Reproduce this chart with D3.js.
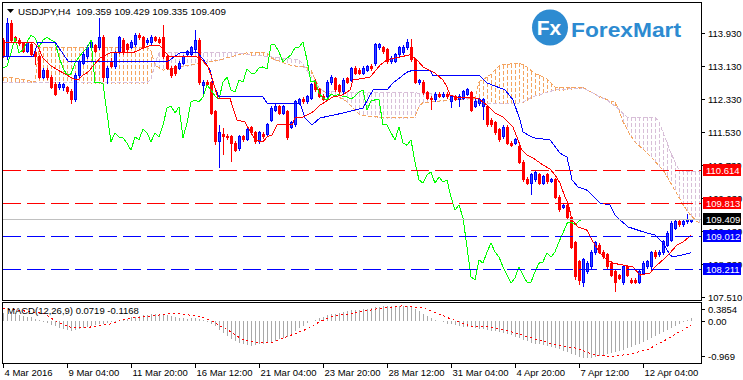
<!DOCTYPE html>
<html lang="en">
<meta charset="utf-8">
<head>
    <title>USDJPY,H4 Ichimoku + MACD</title>
    <script src="https://d3js.org/d3.v7.min.js"></script>
    <style>
        body { margin: 0; background: #fff; }
        svg text { font-family: "Liberation Sans", Arial, sans-serif; }
    </style>
</head>
<body>
<div id="chart"></div>
<script>
    // ---- data (H4 bars, index 0 = first bar at left edge) ----
    const symbolTitle = "USDJPY,H4";
    const lastQuote = ["109.359", "109.429", "109.335", "109.409"];

    const opens = [113.76,
        113.35, 114.17, 113.81, 113.76, 113.67, 113.49, 113.64, 113.45, 113.35, 112.86,
        113.03, 112.86, 112.69, 112.60, 112.60, 112.60, 112.52, 112.31, 112.89, 113.20,
        113.35, 113.57, 113.62, 113.57, 113.83, 112.86, 113.23, 113.11, 113.47, 113.76,
        113.64, 113.59, 113.64, 113.88, 113.81, 113.69, 113.69, 113.81, 113.78, 113.81,
        113.35, 113.08, 113.11, 113.08, 113.20, 113.40, 113.40, 113.52, 113.76, 112.65,
        112.74, 112.72, 112.02, 111.29, 111.48, 111.43, 111.41, 111.26, 111.12, 111.41,
        111.36, 111.63, 111.51, 111.29, 111.48, 111.46, 111.82, 112.06, 112.14, 111.99,
        112.02, 111.65, 111.70, 112.23, 112.33, 112.26, 112.35, 112.72, 112.55, 112.40,
        112.38, 112.72, 112.82, 112.65, 112.50, 112.82, 112.79, 113.08, 113.03, 112.96,
        113.03, 113.13, 113.18, 113.57, 113.57, 113.52, 113.23, 113.25, 113.40, 113.45,
        113.57, 113.59, 113.28, 112.72, 112.74, 112.48, 112.35, 112.31, 112.45, 112.40,
        112.45, 112.26, 112.38, 112.31, 112.35, 112.45, 112.48, 112.16, 112.21, 112.14,
        112.14, 111.82, 111.75, 111.58, 111.41, 111.65, 111.26, 111.26, 111.19, 110.80,
        110.39, 110.29, 110.37, 110.49, 110.29, 110.49, 110.34, 110.37, 109.95, 109.71,
        109.76, 109.45, 108.84, 108.38, 107.89, 108.14, 108.26, 108.60, 108.79, 108.62,
        108.55, 108.35, 108.14, 108.04, 107.87, 108.26, 107.94, 107.94, 107.89, 108.11,
        108.26, 108.26, 108.62, 108.55, 108.60, 108.79, 108.91, 109.20, 109.35, 109.28,
        109.35, 109.359];
    const highs = [113.81,
        114.29, 114.25, 113.86, 113.81, 113.71, 113.74, 113.69, 113.49, 113.40, 113.08,
        113.08, 112.91, 112.74, 112.74, 112.72, 112.65, 112.57, 112.96, 113.28, 113.47,
        113.64, 113.76, 113.67, 114.29, 113.88, 113.13, 113.32, 113.49, 113.86, 113.81,
        113.69, 113.76, 113.93, 113.93, 113.86, 113.81, 113.88, 113.86, 113.83, 114.12,
        113.40, 113.13, 113.15, 113.25, 113.40, 113.52, 113.62, 114.00, 113.81, 112.79,
        112.79, 112.77, 112.06, 111.70, 111.63, 111.48, 111.46, 111.31, 111.46, 111.46,
        111.65, 111.68, 111.56, 111.56, 111.53, 111.75, 112.16, 112.21, 112.18, 112.18,
        112.06, 111.80, 112.31, 112.35, 112.38, 112.43, 112.72, 112.82, 112.60, 112.45,
        112.79, 112.91, 112.86, 112.69, 112.84, 112.86, 113.11, 113.13, 113.08, 113.13,
        113.15, 113.18, 113.69, 113.69, 113.62, 113.57, 113.37, 113.45, 113.62, 113.64,
        113.78, 113.78, 113.32, 112.82, 112.79, 112.52, 112.40, 112.50, 112.50, 112.50,
        112.50, 112.43, 112.43, 112.45, 112.55, 112.60, 112.52, 112.33, 112.35, 112.35,
        112.18, 111.87, 111.80, 111.63, 111.70, 111.70, 111.31, 111.39, 111.24, 110.85,
        110.44, 110.54, 110.61, 110.54, 110.49, 110.54, 110.41, 110.41, 110.00, 109.81,
        109.81, 109.49, 108.89, 108.43, 108.48, 108.40, 108.67, 108.89, 108.84, 108.67,
        108.60, 108.40, 108.19, 108.09, 108.31, 108.31, 107.99, 107.99, 108.19, 108.40,
        108.43, 108.65, 108.67, 108.67, 108.91, 109.13, 109.37, 109.40, 109.40, 109.42,
        109.54, 109.429];
    const lows = [113.33,
        113.28, 113.71, 113.69, 113.62, 113.45, 113.45, 113.35, 113.15, 112.82, 112.82,
        112.79, 112.57, 112.40, 112.55, 112.52, 112.45, 112.21, 112.26, 112.84, 113.15,
        113.30, 113.52, 113.45, 113.52, 112.74, 112.69, 113.08, 113.06, 113.42, 113.40,
        113.47, 113.54, 113.59, 113.76, 113.54, 113.64, 113.64, 113.71, 113.67, 113.30,
        113.03, 112.84, 112.89, 113.03, 113.15, 113.35, 113.35, 113.47, 112.67, 112.38,
        112.65, 111.94, 111.21, 110.66, 110.97, 111.34, 110.80, 111.05, 111.07, 111.29,
        111.31, 111.46, 111.24, 111.24, 111.36, 111.41, 111.77, 112.02, 111.94, 111.94,
        111.34, 111.60, 111.65, 112.18, 112.21, 112.21, 112.31, 112.50, 112.35, 112.28,
        112.33, 112.67, 112.50, 112.45, 112.45, 112.69, 112.74, 112.91, 112.91, 112.91,
        112.99, 113.01, 113.13, 113.52, 113.42, 113.18, 113.18, 113.20, 113.35, 113.40,
        113.52, 113.23, 112.69, 112.67, 112.43, 112.31, 112.06, 112.26, 112.35, 112.35,
        112.33, 112.11, 112.28, 112.14, 112.31, 112.40, 112.02, 112.11, 112.16, 111.82,
        111.65, 111.65, 111.46, 111.29, 111.36, 111.21, 111.17, 111.21, 110.76, 110.32,
        110.24, 110.00, 110.32, 110.24, 110.24, 110.27, 110.29, 109.91, 109.59, 109.67,
        109.40, 108.69, 107.94, 107.82, 107.77, 108.09, 108.21, 108.55, 108.57, 108.45,
        108.21, 108.02, 107.65, 107.94, 107.82, 108.02, 107.85, 107.85, 107.85, 108.06,
        108.21, 108.21, 108.45, 108.50, 108.55, 108.74, 108.87, 109.15, 109.23, 109.23,
        109.30, 109.335];
    const closes = [113.35,
        114.17, 113.76, 113.74, 113.67, 113.49, 113.69, 113.40, 113.35, 112.86, 113.03,
        112.84, 112.62, 112.45, 112.69, 112.67, 112.50, 112.31, 112.91, 113.23, 113.40,
        113.59, 113.71, 113.49, 113.81, 112.84, 113.08, 113.13, 113.45, 113.81, 113.45,
        113.52, 113.71, 113.88, 113.81, 113.59, 113.76, 113.83, 113.76, 113.71, 113.35,
        113.08, 112.91, 112.94, 113.20, 113.35, 113.47, 113.57, 113.76, 112.72, 112.74,
        112.69, 111.99, 111.29, 111.51, 111.41, 111.39, 111.26, 111.09, 111.41, 111.34,
        111.60, 111.51, 111.29, 111.51, 111.41, 111.70, 112.11, 112.16, 111.99, 112.14,
        111.39, 111.75, 112.26, 112.31, 112.26, 112.38, 112.67, 112.55, 112.40, 112.33,
        112.74, 112.86, 112.55, 112.50, 112.79, 112.74, 113.06, 112.96, 112.96, 113.08,
        113.11, 113.06, 113.64, 113.64, 113.47, 113.23, 113.32, 113.40, 113.57, 113.59,
        113.71, 113.28, 112.74, 112.77, 112.48, 112.35, 112.31, 112.45, 112.40, 112.45,
        112.38, 112.38, 112.33, 112.40, 112.50, 112.55, 112.06, 112.28, 112.31, 112.31,
        111.70, 111.70, 111.51, 111.34, 111.65, 111.26, 111.21, 111.34, 110.80, 110.37,
        110.29, 110.49, 110.56, 110.29, 110.44, 110.32, 110.37, 109.95, 109.64, 109.76,
        109.45, 108.74, 108.02, 107.94, 108.43, 108.35, 108.62, 108.84, 108.62, 108.50,
        108.26, 108.06, 107.87, 107.99, 108.26, 108.06, 107.89, 107.89, 108.14, 108.35,
        108.38, 108.60, 108.50, 108.62, 108.87, 109.08, 109.32, 109.35, 109.28, 109.37,
        109.42, 109.409];

    // Ichimoku Tenkan / Kijun as [bar, price] vertices
    const tenkan = [[0,113.71],[7.5,113.71],[8.75,113.59],[10,113.32],[11.75,113.15],[13.75,113.03],[16,112.91],
        [17.5,112.82],[18.75,112.79],[20,112.91],[21.25,112.98],[22.5,113.13],[24.25,113.32],[26.75,113.45],
        [32.5,113.45],[35,113.57],[36.75,113.62],[39.25,113.62],[40.5,113.47],[41.75,113.35],[48.5,113.35],
        [49.75,113.28],[51.25,113.11],[52.25,112.84],[53.75,112.35],[56.75,112.35],[57.5,112.11],[58.5,111.82],
        [60.5,111.77],[63,111.34],[65,111.29],[66,111.41],[67.25,111.46],[68.5,111.70],[72.25,111.70],
        [73,111.87],[75,111.89],[77.5,112.02],[79.25,112.18],[82.5,112.38],[85,112.43],[86.75,112.55],
        [87.5,112.79],[91.75,112.86],[94.25,113.15],[96,113.28],[99.25,113.35],[101.75,113.40],[103.5,113.28],
        [105,113.11],[108,112.96],[110,112.79],[111,112.62],[111.75,112.43],[113,112.38],[118.75,112.35],
        [121,112.18],[123,111.99],[125,111.89],[127.5,111.65],[128.75,111.34],[129.75,111.09],[131,110.97],
        [132.5,110.90],[135,110.73],[136.75,110.63],[138,110.49],[139.25,110.29],[140.5,109.95],[141.25,109.81],
        [142.25,109.40],[143.75,109.23],[146,109.15],[147.25,108.91],[149.25,108.60],[151,108.43],[152.5,108.35],
        [157.5,108.26],[159.25,108.06],[161.75,108.11],[163,108.26],[165,108.43],[166.75,108.60],[168.5,108.79],
        [170,108.86],[172,109.03]];
    const kijun = [[0,113.35],[7.5,113.35],[8.75,113.71],[13,113.71],[16.25,113.25],[17.25,113.23],[41,113.23],
        [44.25,113.45],[48.75,113.45],[50.5,113.23],[51.75,113.03],[52.5,112.72],[54,112.38],[65,112.38],
        [66,112.23],[74.25,112.23],[75.5,111.87],[77.25,111.70],[79.25,111.87],[85,111.99],[90,112.11],
        [92.5,112.55],[96,112.55],[97.5,112.72],[101,112.98],[102.5,113.03],[106.75,113.03],[107.5,112.89],
        [119.25,112.89],[121,112.72],[125.5,112.55],[127.5,112.31],[129.25,111.82],[130,111.53],[132.5,111.39],
        [136.75,111.34],[139.25,111.02],[141,110.92],[142.25,110.37],[143.75,110.20],[146,110.12],[149.25,109.81],
        [151.75,109.76],[153,109.52],[154.25,109.40],[156.25,109.23],[160,109.11],[163,109.03],[165,108.84],
        [166.75,108.55],[167.5,108.50],[169.75,108.55],[172,108.60]];

    // Senkou spans per bar (shifted 26 bars ahead, so they run past the last candle)
    const spanA = [112.86, 112.85, 112.85, 112.84, 112.82, 112.80, 112.78, 112.76, 112.74, 113.59,
        113.59, 113.59, 113.59, 113.59, 113.59, 113.59, 113.59, 113.59, 113.59, 113.59,
        113.59, 113.59, 113.59, 113.59, 113.59, 113.59, 113.59, 113.59, 113.59, 113.59,
        113.59, 113.59, 113.59, 113.59, 113.59, 113.59, 113.59, 113.50, 113.15, 113.09,
        113.03, 113.05, 113.06, 113.08, 113.10, 113.12, 113.14, 113.16, 113.18, 113.20,
        113.21, 113.23, 113.24, 113.26, 113.28, 113.30, 113.33, 113.35, 113.38, 113.41,
        113.43, 113.45, 113.47, 113.46, 113.46, 113.46, 113.45, 113.33, 113.28, 113.25,
        113.21, 113.18, 113.15, 113.13, 113.12, 113.11, 113.09, 113.03, 112.82, 112.60,
        112.52, 112.48, 112.44, 112.41, 112.37, 112.33, 112.26, 112.16, 112.06, 111.96,
        111.93, 111.92, 111.91, 111.90, 111.89, 111.88, 111.87, 111.87, 111.87, 111.88,
        111.88, 111.88, 111.89, 111.89, 112.16, 112.24, 112.25, 112.26, 112.27, 112.28,
        112.29, 112.30, 112.31, 112.32, 112.32, 112.33, 112.34, 112.34, 112.35, 112.75,
        112.80, 112.86, 112.93, 113.03, 113.13, 113.16, 113.17, 113.18, 113.19, 113.20,
        113.16, 113.11, 113.02, 112.95, 112.91, 112.86, 112.82, 112.72, 112.62, 112.62,
        112.62, 112.62, 112.62, 112.62, 112.62, 112.62, 112.55, 112.50, 112.45, 112.40,
        112.36, 112.31, 112.28, 112.25, 112.07, 111.78, 111.60, 111.43, 111.29, 111.20,
        111.11, 111.02, 110.92, 110.82, 110.71, 110.61, 110.45, 110.28, 110.11, 109.94,
        109.77, 109.63, 109.50, 109.41, 109.32];
    const spanB = [112.74, 112.74, 112.74, 112.74, 112.74, 112.74, 112.74, 112.74, 112.74, 112.74,
        112.74, 112.74, 112.74, 112.74, 112.74, 112.74, 112.74, 112.74, 112.74, 112.74,
        112.73, 112.73, 112.73, 112.73, 112.73, 112.73, 112.73, 112.73, 112.73, 112.73,
        112.73, 112.73, 112.73, 112.73, 112.73, 112.73, 112.73, 112.81, 113.18, 113.45,
        113.45, 113.45, 113.45, 113.45, 113.45, 113.45, 113.45, 113.45, 113.45, 113.45,
        113.45, 113.45, 113.45, 113.45, 113.45, 113.45, 113.45, 113.45, 113.45, 113.45,
        113.43, 113.41, 113.40, 113.39, 113.38, 113.37, 113.36, 113.35, 113.34, 113.33,
        113.32, 113.31, 113.30, 113.29, 113.28, 113.17, 113.02, 112.88, 112.73, 112.59,
        112.54, 112.53, 112.52, 112.51, 112.50, 112.49, 112.48, 112.48, 112.48, 112.48,
        112.48, 112.48, 112.48, 112.48, 112.48, 112.48, 112.48, 112.48, 112.48, 112.48,
        112.48, 112.48, 112.48, 112.48, 112.47, 112.47, 112.46, 112.46, 112.45, 112.45,
        112.44, 112.43, 112.42, 112.40, 112.38, 112.37, 112.35, 112.33, 112.31, 112.23,
        112.23, 112.23, 112.23, 112.23, 112.23, 112.23, 112.23, 112.23, 112.23, 112.23,
        112.26, 112.31, 112.36, 112.40, 112.43, 112.46, 112.49, 112.52, 112.55, 112.56,
        112.56, 112.57, 112.58, 112.59, 112.59, 112.60, 112.55, 112.50, 112.45, 112.39,
        112.35, 112.31, 112.23, 112.16, 112.08, 111.98, 111.89, 111.89, 111.89, 111.89,
        111.89, 111.89, 111.89, 111.89, 111.77, 111.52, 111.28, 111.01, 110.81, 110.60,
        110.58, 110.58, 110.58, 110.58, 110.58];
    const chikouShift = 26;

    // MACD(12,26,9): main histogram per bar, signal as [bar, value] vertices
    const macdMain = [0.19,
        0.18, 0.17, 0.16, 0.15, 0.12, 0.10, 0.08, 0.05, 0.02, -0.03,
        -0.07, -0.11, -0.15, -0.19, -0.22, -0.24, -0.26, -0.25, -0.22, -0.20, -0.17, -0.14,
        -0.11, -0.09, -0.08, -0.06, -0.04, -0.03, -0.01,
        0.02, 0.05, 0.08, 0.10, 0.12, 0.14, 0.15, 0.16, 0.17, 0.17, 0.16, 0.14, 0.12, 0.09,
        0.07, 0.06, 0.05, 0.06, 0.07, 0.05, 0.01, -0.03, -0.08,
        -0.15, -0.24, -0.33, -0.41, -0.48, -0.53, -0.58,
        -0.62, -0.64, -0.65, -0.64, -0.62, -0.60,
        -0.58, -0.55, -0.52, -0.48, -0.45, -0.42, -0.36, -0.28, -0.20, -0.13, -0.07, -0.02, 0.02,
        0.06, 0.10, 0.13, 0.16, 0.18, 0.20, 0.22, 0.24, 0.26, 0.27, 0.28, 0.29, 0.31, 0.33, 0.35,
        0.36, 0.37, 0.37, 0.38, 0.38, 0.385, 0.38, 0.37, 0.35, 0.30,
        0.24, 0.18, 0.12,
        0.06, 0.02, -0.02, -0.05, -0.08, -0.10,
        -0.12, -0.14, -0.16, -0.17, -0.18, -0.20, -0.21, -0.22, -0.24, -0.26, -0.28, -0.30, -0.32,
        -0.35, -0.38, -0.42, -0.46, -0.50, -0.54, -0.57, -0.60, -0.62, -0.64, -0.66, -0.68, -0.70,
        -0.74, -0.78, -0.82, -0.86, -0.90, -0.94,
        -0.96, -0.969, -0.96, -0.94, -0.92, -0.90, -0.87,
        -0.84, -0.81, -0.78, -0.75, -0.72, -0.68, -0.64, -0.60, -0.55,
        -0.50, -0.45, -0.40, -0.35, -0.30, -0.25, -0.20, -0.15, -0.09, -0.04, 0.02, 0.0719];
    const macdSignal = [[0,0.31],[10,0.19],[13.5,-0.03],[16.75,-0.17],[21.75,-0.17],[26.75,-0.09],[31,0.05],
        [36.75,0.11],[42.5,0.19],[49.25,0.11],[52.5,-0.03],[56.75,-0.28],[60,-0.50],[64.25,-0.58],[67.5,-0.56],
        [71,-0.42],[76,-0.22],[79.25,-0.03],[82.5,0.11],[87.5,0.19],[93.5,0.30],[100,0.38],[105,0.33],
        [111.75,0.05],[116.75,-0.14],[121.75,-0.17],[126.75,-0.28],[131.75,-0.44],[138.5,-0.64],[143.5,-0.72],
        [147.5,-0.88],[151.75,-0.93],[156,-0.88],[161,-0.76],[166.75,-0.44],[172,-0.1168]];
    const macdLabel = "MACD(12,26,9) 0.0719 -0.1168";

    // axes
    const priceTicks = [113.93, 113.13, 112.33, 111.53, 110.73, 109.93, 109.13, 108.33, 107.51];
    const macdTicks = [0.3854, 0, -0.969];
    const macdTickText = ["0.3854", "0.00", "-0.969"];
    const timeLabels = ["4 Mar 2016", "9 Mar 04:00", "11 Mar 20:00", "16 Mar 12:00", "21 Mar 04:00",
        "23 Mar 20:00", "28 Mar 12:00", "31 Mar 04:00", "4 Apr 20:00", "7 Apr 12:00", "12 Apr 04:00"];
    const barsPerLabel = 16;

    // horizontal levels
    const levelPrices = [110.614, 109.813, 109.012, 108.211];
    const levelSide = ["resistance", "resistance", "support", "support"];

    // ---- drawing ----
    const W = 743, H = 380;
    const plot = {left: 3, right: 701, top: 3, bottom: 300, subTop: 303, subBottom: 363};
    const sideColor = {resistance: "#ff0000", support: "#0000ff"};
    const bullColor = "#0000ff", bearColor = "#ff0000";
    const cloudUp = "#f4a460", cloudDown = "#d8bfd8";

    let x = d3.scaleLinear().domain([0, closes.length - 1]).range([3, 3 + 4 * (closes.length - 1)]);
    let y = d3.scaleLinear().domain([107.457, 114.682]).range([300, 2]);
    let my = d3.scaleLinear().domain([-0.969, 0.3854]).range([358, 305.6]);

    let svg = d3.select("#chart").append("svg")
        .attr("width", W).attr("height", H)
        .style("display", "block")
        .attr("shape-rendering", "crispEdges");
    svg.append("rect").attr("width", W).attr("height", H).attr("fill", "#fff");

    let defs = svg.append("defs");
    defs.append("clipPath").attr("id", "clipMain").append("rect")
        .attr("x", plot.left).attr("y", plot.top)
        .attr("width", plot.right - plot.left).attr("height", plot.bottom - plot.top);
    defs.append("clipPath").attr("id", "clipSub").append("rect")
        .attr("x", plot.left).attr("y", plot.subTop)
        .attr("width", plot.right - plot.left).attr("height", plot.subBottom - plot.subTop);

    let main = svg.append("g").attr("clip-path", "url(#clipMain)");
    let priceLine = d3.line().x(d => x(d[0])).y(d => y(d[1]));

    // cloud: one dotted vertical stroke per bar, coloured by which span is on top
    let dots = d3.range(spanA.length).flatMap(j => {
        let top = Math.round(y(Math.max(spanA[j], spanB[j])));
        let bot = Math.round(y(Math.min(spanA[j], spanB[j])));
        return d3.range(top, bot + 1, 6).map(t => ({j: j, t: t, h: Math.min(4, bot + 1 - t)}));
    });
    main.append("g").selectAll("rect").data(dots).join("rect")
        .attr("x", d => Math.round(x(d.j))).attr("y", d => d.t)
        .attr("width", 1).attr("height", d => d.h)
        .attr("fill", d => spanA[d.j] >= spanB[d.j] ? cloudUp : cloudDown);
    main.append("path").attr("d", priceLine(spanA.map((v, j) => [j, v]))).attr("fill", "none")
        .attr("stroke", cloudUp).attr("stroke-dasharray", "4,2");
    main.append("path").attr("d", priceLine(spanB.map((v, j) => [j, v]))).attr("fill", "none")
        .attr("stroke", cloudDown).attr("stroke-dasharray", "4,2");

    // candles
    let bars = main.append("g").selectAll("g").data(d3.range(closes.length)).join("g")
        .attr("stroke", j => closes[j] >= opens[j] ? bullColor : bearColor);
    bars.append("line")
        .attr("x1", j => x(j) + 0.5).attr("x2", j => x(j) + 0.5)
        .attr("y1", j => y(highs[j])).attr("y2", j => y(lows[j]));
    bars.append("rect")
        .attr("x", j => x(j) - 0.5).attr("width", 2)
        .attr("y", j => y(Math.max(opens[j], closes[j])))
        .attr("height", j => Math.max(0.5, y(Math.min(opens[j], closes[j])) - y(Math.max(opens[j], closes[j]))))
        .attr("fill", j => closes[j] >= opens[j] ? "#2a4dff" : bearColor);

    // ichimoku lines
    let chikou = d3.range(closes.length - chikouShift).map(j => [j, closes[j + chikouShift]]);
    main.append("path").attr("d", priceLine(chikou)).attr("fill", "none").attr("stroke", "#00ff00");
    main.append("path").attr("d", priceLine(kijun)).attr("fill", "none").attr("stroke", "#0000ff");
    main.append("path").attr("d", priceLine(tenkan)).attr("fill", "none").attr("stroke", "#ff0000");

    // levels and current price
    levelPrices.forEach((p, k) => {
        main.append("line").attr("x1", plot.left).attr("x2", plot.right)
            .attr("y1", Math.round(y(p)) + 0.5).attr("y2", Math.round(y(p)) + 0.5)
            .attr("stroke", sideColor[levelSide[k]]).attr("stroke-dasharray", "18,6");
    });
    let lastClose = closes[closes.length - 1];
    main.append("line").attr("x1", plot.left).attr("x2", plot.right)
        .attr("y1", Math.round(y(lastClose)) + 0.5).attr("y2", Math.round(y(lastClose)) + 0.5)
        .attr("stroke", "#c0c0c0");

    // MACD panel
    let sub = svg.append("g").attr("clip-path", "url(#clipSub)");
    sub.selectAll("line.h").data(macdMain).join("line").attr("class", "h")
        .attr("x1", (d, j) => x(j) + 0.5).attr("x2", (d, j) => x(j) + 0.5)
        .attr("y1", my(0)).attr("y2", d => my(d))
        .attr("stroke", "#a9a9a9");
    let macdLine = d3.line().x(d => x(d[0])).y(d => my(d[1]));
    sub.append("path").attr("d", macdLine(macdSignal)).attr("fill", "none")
        .attr("stroke", "#ff0000").attr("stroke-dasharray", "2,3");
    svg.append("text").attr("x", 7).attr("y", 314).attr("font-size", 9.5).attr("fill", "#000").text(macdLabel);

    // frames
    svg.append("rect").attr("x", 2.5).attr("y", 2.5).attr("width", plot.right - 2)
        .attr("height", plot.bottom - 2).attr("fill", "none").attr("stroke", "#000");
    svg.append("rect").attr("x", 2.5).attr("y", 302.5).attr("width", plot.right - 2)
        .attr("height", plot.subBottom - 302).attr("fill", "none").attr("stroke", "#000");

    // right price axis
    let axis = svg.append("g").attr("font-size", 9.5).attr("fill", "#000");
    priceTicks.forEach(p => {
        let yy = Math.round(Math.min(y(p), 297)) + 0.5;
        axis.append("line").attr("x1", plot.right + 1).attr("x2", plot.right + 4)
            .attr("y1", yy).attr("y2", yy).attr("stroke", "#000");
        axis.append("text").attr("x", 708).attr("y", yy + 3.5).text(p.toFixed(3));
    });
    macdTicks.forEach((v, k) => {
        let yy = Math.round(Math.max(309, Math.min(356, my(v)))) + 0.5;
        axis.append("line").attr("x1", plot.right + 1).attr("x2", plot.right + 4)
            .attr("y1", yy).attr("y2", yy).attr("stroke", "#000");
        axis.append("text").attr("x", 708).attr("y", yy + 3.5).text(macdTickText[k]);
    });

    // price boxes on the axis
    function priceBox(p, bg) {
        let yy = Math.round(y(p));
        axis.append("rect").attr("x", 703).attr("y", yy - 6).attr("width", 38).attr("height", 12).attr("fill", bg);
        axis.append("text").attr("x", 706).attr("y", yy + 3.5).attr("fill", "#fff").text(p.toFixed(3));
    }
    levelPrices.forEach((p, k) => priceBox(p, sideColor[levelSide[k]]));
    priceBox(lastClose, "#000");

    // time axis
    timeLabels.forEach((t, k) => {
        let xx = Math.round(x(k * barsPerLabel)) + 0.5;
        axis.append("line").attr("x1", xx).attr("x2", xx).attr("y1", plot.subBottom + 1).attr("y2", plot.subBottom + 5)
            .attr("stroke", "#000");
        axis.append("text").attr("x", xx + 1).attr("y", 376).text(t);
    });

    // title
    svg.append("path").attr("d", "M7,9L14,9L10.5,13Z").attr("fill", "#000").attr("shape-rendering", "auto");
    svg.append("text").attr("x", 18).attr("y", 14.5).attr("font-size", 9.8).attr("fill", "#000")
        .attr("xml:space", "preserve").text(symbolTitle + "  " + lastQuote.join(" "));

    // logo
    let logo = svg.append("g").attr("shape-rendering", "auto");
    logo.append("circle").attr("cx", 550).attr("cy", 27.5).attr("r", 18).attr("fill", "#2d8bd1");
    logo.append("text").attr("x", 549).attr("y", 35).attr("text-anchor", "middle")
        .attr("font-family", "Open Sans").attr("font-weight", 700).attr("font-size", 21)
        .attr("fill", "#fff").text("Fx");
    logo.append("text").attr("x", 571).attr("y", 36.5)
        .attr("font-family", "Open Sans").attr("font-weight", 600).attr("font-size", 21)
        .attr("textLength", 110).attr("lengthAdjust", "spacingAndGlyphs")
        .attr("fill", "#2d8bd1").text("ForexMart");
</script>
</body>
</html>
